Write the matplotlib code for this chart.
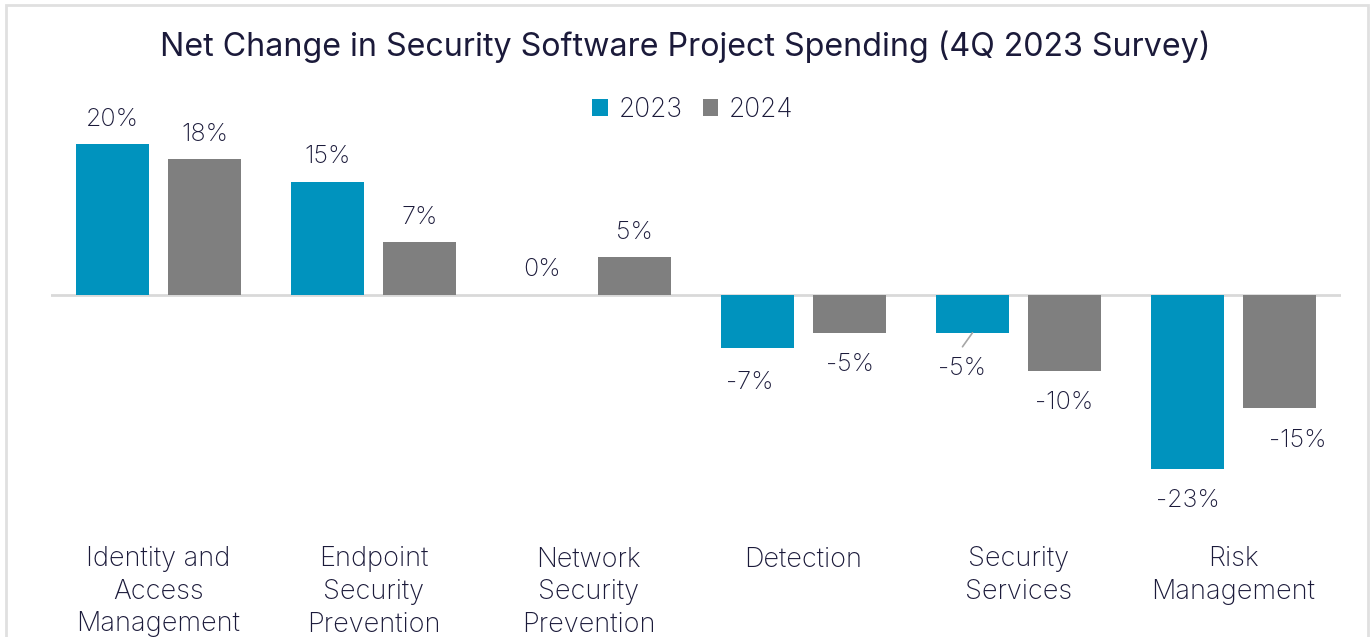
import matplotlib
matplotlib.use("Agg")
from matplotlib import pyplot as plt
from matplotlib.patches import Rectangle
import numpy as np

plt.rcParams["font.family"] = ["Inter", "DejaVu Sans"]

categories = [
    "Identity and\nAccess\nManagement",
    "Endpoint\nSecurity\nPrevention",
    "Network\nSecurity\nPrevention",
    "Detection",
    "Security\nServices",
    "Risk\nManagement",
]
series_names = ["2023", "2024"]
values_2023 = [20, 15, 0, -7, -5, -23]
values_2024 = [18, 7, 5, -5, -10, -15]

title = "Net Change in Security Software Project Spending (4Q 2023 Survey)"

BLUE = "#0093BE"
GREY = "#7F7F7F"
TEXT = "#1B1A3A"
LINE = "#D9D9D9"

W, H, DPI = 1370, 637, 100
fig = plt.figure(figsize=(W / DPI, H / DPI), dpi=DPI)

# axes placed so that zero sits at y=295px and categories span 51..1341px
ymin, ymax = -30, 26
px_per_unit = 7.55
top_px = 295 - ymax * px_per_unit
bot_px = 295 - ymin * px_per_unit
ax = fig.add_axes([51 / W, 1 - bot_px / H, 1290 / W, (bot_px - top_px) / H])
ax.set_xlim(-0.5, len(categories) - 0.5)
ax.set_ylim(ymin, ymax)

x = np.arange(len(categories))
bw = 0.335
off = 0.214
bars_a = ax.bar(x - off, values_2023, bw, color=BLUE, label=series_names[0])
bars_b = ax.bar(x + off, values_2024, bw, color=GREY, label=series_names[1])
ax.axhline(0, color=LINE, lw=2, zorder=0)

for s in ax.spines.values():
    s.set_visible(False)
ax.set_yticks([])
ax.set_xticks(x)
ax.set_xticklabels(categories, fontsize=19.5, color=TEXT, linespacing=1.32,
                   va="top", fontweight="light")
ax.tick_params(axis="x", length=0, pad=18)

# manual label nudges in pixels (dx right, dy down), like hand-moved labels
nudges = {(0, 3): (-8, 3), (0, 4): (-10, 4), (1, 5): (18, 0)}

px = 72 / DPI  # points per pixel


def label_bars(bars, vals, si):
    for i, (b, v) in enumerate(zip(bars, vals)):
        cx = b.get_x() + b.get_width() / 2
        dx, dy = nudges.get((si, i), (0, 0))
        oy = 25 if v >= 0 else -32
        ax.annotate(
            f"{v}%",
            xy=(cx, v),
            xytext=(dx * px, (oy - dy) * px),
            textcoords="offset points",
            ha="center",
            va="center",
            fontsize=18,
            fontweight="light",
            color=TEXT,
        )


label_bars(bars_a, values_2023, 0)
label_bars(bars_b, values_2024, 1)

# leader line for the moved Security Services 2023 label
b = bars_a[4]
cx = b.get_x() + b.get_width() / 2
ax.annotate(
    "",
    xy=(cx, values_2023[4]),
    xytext=(-10 * px, -14 * px),
    textcoords="offset points",
    arrowprops=dict(arrowstyle="-", color="#A6A6A6", lw=1.2, shrinkA=0, shrinkB=0),
)

fig.text(0.5, 1 - 47 / H, title, ha="center", va="center", fontsize=23.2,
         color=TEXT)

fig.legend(
    handles=[bars_a, bars_b],
    labels=series_names,
    loc="center",
    bbox_to_anchor=(693 / W, 1 - 110 / H),
    ncol=2,
    frameon=False,
    prop={"size": 19, "weight": "light"},
    handlelength=0.6,
    handleheight=0.6,
    handletextpad=0.4,
    columnspacing=0.75,
    labelcolor=TEXT,
)

fig.patches.append(
    Rectangle((6 / W, -0.05), 1362 / W, 1 - 5 / H + 0.05, transform=fig.transFigure,
              fill=False, edgecolor="#E0E0E0", lw=2)
)

fig.savefig("out.png", dpi=DPI)
